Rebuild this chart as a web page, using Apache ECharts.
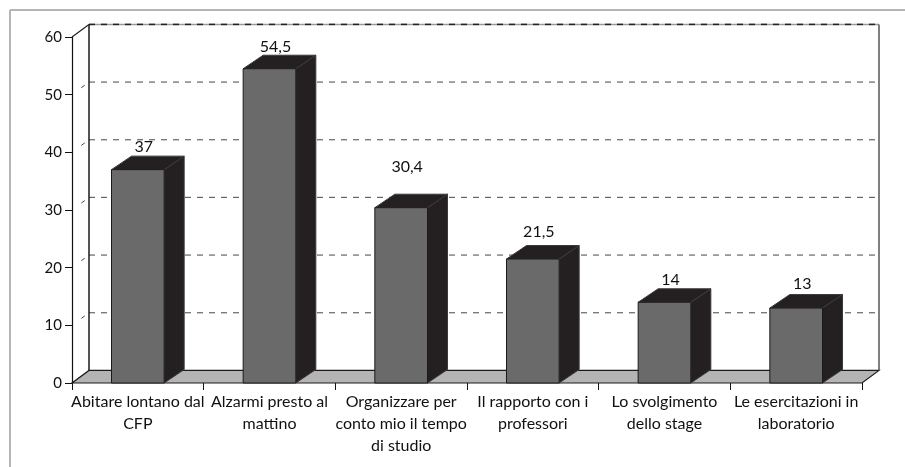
<!DOCTYPE html>
<html>
<head>
<meta charset="utf-8">
<style>
html,body{margin:0;padding:0;background:#fff;}
#chart-panel{width:905px;height:467px;}
</style>
<script src="https://cdn.jsdelivr.net/npm/echarts@6/dist/echarts.min.js"></script>
</head>
<body>
<div id="chart-panel"></div>
<script>
var categories = [
	'Abitare lontano dal\nCFP',
	'Alzarmi presto al\nmattino',
	'Organizzare per\nconto mio il tempo\ndi studio',
	'Il rapporto con i\nprofessori',
	'Lo svolgimento\ndello stage',
	'Le esercitazioni in\nlaboratorio'
];
var values = [37, 54.5, 30.4, 21.5, 14, 13];
var yTicks = [0, 10, 20, 30, 40, 50, 60];

// distanza delle etichette sopra le barre (come nell'originale)
var labelLift = [9, 8, 27, 14, 9, 11];

var FONT = 'Lato, "DejaVu Sans", sans-serif';
var wallDx = 17, wallDy = -12.6; // profondita' pareti
var barDx = 20, barDy = -13.5;   // profondita' barre

var myChart = echarts.init(document.getElementById('chart-panel'));

function renderWalls(params, api) {
	var cs = params.coordSys;
	var x0 = cs.x, x1 = cs.x + cs.width;
	var yb = api.coord([0, 0])[1];
	var yt = api.coord([0, 60])[1];
	var children = [];
	// pavimento
	children.push({
		type: 'polygon',
		shape: {points: [[x0, yb], [x1, yb], [x1 + wallDx, yb + wallDy], [x0 + wallDx, yb + wallDy]]},
		style: {fill: '#b4b4b4', stroke: '#1a1a1a', lineWidth: 1.2}
	});
	// griglia sulla parete di fondo
	for (var i = 1; i < yTicks.length - 1; i++) {
		var y = api.coord([0, yTicks[i]])[1];
		children.push({
			type: 'line',
			shape: {x1: x0 + wallDx, y1: y + wallDy, x2: x1 + wallDx, y2: y + wallDy},
			style: {stroke: '#666', lineWidth: 1.2, lineDash: [6, 6]}
		});
		// trattino sulla parete laterale
		children.push({
			type: 'line',
			shape: {x1: x0 + wallDx * 0.55, y1: y + wallDy * 0.55, x2: x0 + wallDx * 0.75, y2: y + wallDy * 0.75},
			style: {stroke: '#444', lineWidth: 1}
		});
	}
	// bordo superiore tratteggiato
	children.push({
		type: 'line',
		shape: {x1: x0 + wallDx, y1: yt + wallDy, x2: x1 + wallDx, y2: yt + wallDy},
		style: {stroke: '#999', lineWidth: 1.5}
	});
	children.push({
		type: 'line',
		shape: {x1: x0 + wallDx, y1: yt + wallDy, x2: x1 + wallDx, y2: yt + wallDy},
		style: {stroke: '#222', lineWidth: 1.5, lineDash: [6, 6]}
	});
	// spigoli delle pareti
	children.push({
		type: 'line',
		shape: {x1: x0, y1: yt, x2: x0 + wallDx, y2: yt + wallDy},
		style: {stroke: '#222', lineWidth: 1.2}
	});
	children.push({
		type: 'line',
		shape: {x1: x0 + wallDx, y1: yb + wallDy, x2: x0 + wallDx, y2: yt + wallDy},
		style: {stroke: '#1a1a1a', lineWidth: 1.5}
	});
	children.push({
		type: 'line',
		shape: {x1: x1 + wallDx, y1: yb + wallDy, x2: x1 + wallDx, y2: yt + wallDy},
		style: {stroke: '#555', lineWidth: 1.5}
	});
	return {type: 'group', children: children};
}

function renderBar(params, api) {
	var idx = api.value(0);
	var v = api.value(1);
	var top = api.coord([idx, v]);
	var bottom = api.coord([idx, 0]);
	var band = api.size([1, 0])[0];
	var w = band * 0.4;
	var xl = top[0] - w / 2, xr = top[0] + w / 2;
	var yt = top[1], yb = bottom[1];
	return {
		type: 'group',
		children: [{
			type: 'polygon',
			shape: {points: [[xr, yb], [xr + barDx, yb + barDy], [xr + barDx, yt + barDy], [xr, yt]]},
			style: {fill: '#242021', stroke: '#3a3a3a', lineWidth: 1}
		}, {
			type: 'polygon',
			shape: {points: [[xl, yt], [xr, yt], [xr + barDx, yt + barDy], [xl + barDx, yt + barDy]]},
			style: {fill: '#242021', stroke: '#3a3a3a', lineWidth: 1}
		}, {
			type: 'rect',
			shape: {x: xl, y: yt, width: w, height: yb - yt},
			style: {fill: '#6a6a6a', stroke: '#1a1a1a', lineWidth: 1}
		}, {
			type: 'text',
			style: {
				text: String(v).replace('.', ','),
				x: top[0] + 6,
				y: yt + barDy - labelLift[idx],
				align: 'center',
				verticalAlign: 'middle',
				fill: '#111',
				font: '16px ' + FONT
			}
		}]
	};
}

var option = {
	backgroundColor: '#fff',
	animation: false,
	graphic: [{
		type: 'line',
		shape: {x1: 10, y1: 10, x2: 905, y2: 10},
		style: {stroke: '#b5b5b5', lineWidth: 2}
	}, {
		type: 'line',
		shape: {x1: 10, y1: 10, x2: 10, y2: 467},
		style: {stroke: '#b5b5b5', lineWidth: 2}
	}],
	grid: {left: 72, right: 43, top: 37, bottom: 84},
	xAxis: {
		type: 'category',
		data: categories,
		axisLine: {show: false},
		axisTick: {show: true, length: 7, lineStyle: {color: '#111', width: 1}},
		axisLabel: {
			interval: 0,
			margin: 8,
			color: '#111',
			fontSize: 16,
			lineHeight: 22,
			fontFamily: FONT
		},
		splitLine: {show: false}
	},
	yAxis: {
		type: 'value',
		min: 0,
		max: 60,
		interval: 10,
		axisLine: {show: true, lineStyle: {color: '#111', width: 1.2}},
		axisTick: {show: true, length: 7, lineStyle: {color: '#111'}},
		axisLabel: {color: '#111', fontSize: 15, margin: 10, fontFamily: FONT},
		splitLine: {show: false}
	},
	series: [{
		type: 'custom',
		name: 'pareti',
		renderItem: renderWalls,
		data: [[0, 0]],
		silent: true,
		z: 1
	}, {
		type: 'custom',
		name: 'valori',
		renderItem: renderBar,
		encode: {x: 0, y: 1},
		data: values.map(function (v, i) { return [i, v]; }),
		z: 3
	}]
};
myChart.setOption(option);
</script>
</body>
</html>
